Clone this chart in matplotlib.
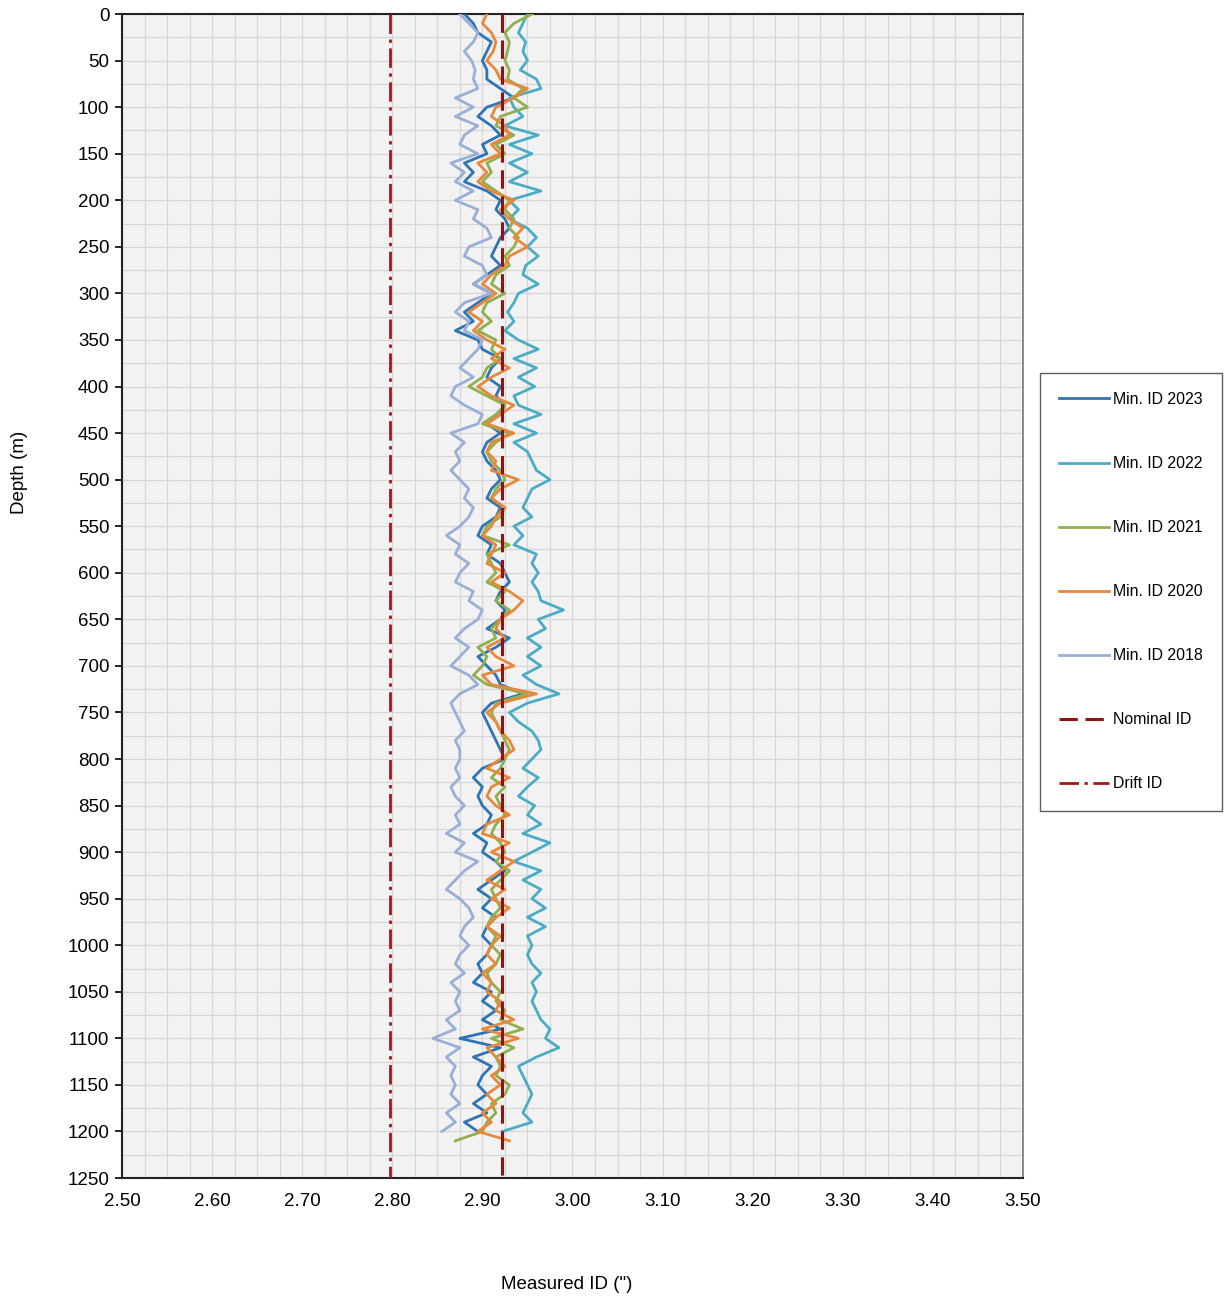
import numpy as np
import matplotlib
matplotlib.use("Agg")
import matplotlib.pyplot as plt
from matplotlib.ticker import MultipleLocator, FormatStrFormatter

plt.rcParams['font.family'] = ['Liberation Sans', 'DejaVu Sans']

depth = [0, 10, 20, 30, 40, 50, 60, 70, 80, 90, 100, 110, 120, 130, 140, 150, 160, 170, 180, 190,
         200, 210, 220, 230, 240, 250, 260, 270, 280, 290, 300, 310, 320, 330, 340, 350, 360, 370, 380, 390,
         400, 410, 420, 430, 440, 450, 460, 470, 480, 490, 500, 510, 520, 530, 540, 550, 560, 570, 580, 590,
         600, 610, 620, 630, 640, 650, 660, 670, 680, 690, 700, 710, 720, 730, 740, 750, 760, 770, 780, 790,
         800, 810, 820, 830, 840, 850, 860, 870, 880, 890, 900, 910, 920, 930, 940, 950, 960, 970, 980, 990,
         1000, 1010, 1020, 1030, 1040, 1050, 1060, 1070, 1080, 1090, 1100, 1110, 1120, 1130, 1140, 1150, 1160,
         1170, 1180, 1190, 1200, 1210]

id_2023 = [2.880, 2.890, 2.895, 2.910, 2.905, 2.900, 2.905, 2.905, 2.920, 2.935, 2.905, 2.895, 2.910, 2.920, 2.900, 2.905, 2.880, 2.890, 2.880, 2.905,
           2.920, 2.915, 2.925, 2.930, 2.920, 2.915, 2.910, 2.920, 2.905, 2.890, 2.910, 2.895, 2.880, 2.890, 2.870, 2.895, 2.900, 2.920, 2.910, 2.905,
           2.920, 2.915, 2.925, 2.920, 2.905, 2.920, 2.905, 2.900, 2.905, 2.915, 2.920, 2.910, 2.905, 2.920, 2.915, 2.900, 2.895, 2.910, 2.905, 2.920,
           2.925, 2.930, 2.920, 2.915, 2.925, 2.920, 2.905, 2.930, 2.915, 2.895, 2.905, 2.915, 2.920, 2.945, 2.910, 2.900, 2.905, 2.910, 2.915, 2.920,
           2.925, 2.900, 2.890, 2.900, 2.895, 2.900, 2.910, 2.905, 2.890, 2.905, 2.900, 2.915, 2.925, 2.910, 2.895, 2.910, 2.900, 2.915, 2.905, 2.900,
           2.910, 2.905, 2.895, 2.900, 2.890, 2.910, 2.900, 2.915, 2.900, 2.920, 2.875, 2.920, 2.890, 2.910, 2.900, 2.895, 2.905,
           2.890, 2.905, 2.880, 2.895, np.nan]

id_2022 = [2.950, 2.945, 2.940, 2.948, 2.945, 2.950, 2.942, 2.960, 2.965, 2.930, 2.935, 2.945, 2.925, 2.962, 2.930, 2.955, 2.930, 2.950, 2.930, 2.965,
           2.930, 2.940, 2.930, 2.950, 2.960, 2.950, 2.962, 2.948, 2.945, 2.962, 2.940, 2.935, 2.928, 2.935, 2.925, 2.940, 2.962, 2.935, 2.960, 2.940,
           2.958, 2.935, 2.940, 2.965, 2.935, 2.960, 2.935, 2.950, 2.955, 2.960, 2.975, 2.955, 2.950, 2.945, 2.955, 2.935, 2.945, 2.935, 2.960, 2.955,
           2.962, 2.955, 2.962, 2.965, 2.990, 2.962, 2.970, 2.950, 2.965, 2.950, 2.965, 2.945, 2.960, 2.985, 2.950, 2.930, 2.940, 2.955, 2.962, 2.965,
           2.955, 2.945, 2.962, 2.950, 2.940, 2.958, 2.950, 2.965, 2.945, 2.975, 2.955, 2.935, 2.965, 2.945, 2.965, 2.955, 2.970, 2.950, 2.970, 2.950,
           2.955, 2.950, 2.955, 2.965, 2.955, 2.960, 2.955, 2.960, 2.965, 2.975, 2.970, 2.985, 2.960, 2.940, 2.945, 2.950, 2.955,
           2.950, 2.945, 2.955, 2.922, np.nan]

id_2021 = [2.955, 2.935, 2.925, 2.930, 2.928, 2.925, 2.930, 2.928, 2.945, 2.935, 2.950, 2.920, 2.915, 2.935, 2.915, 2.925, 2.905, 2.910, 2.900, 2.915,
           2.930, 2.925, 2.935, 2.930, 2.940, 2.935, 2.925, 2.930, 2.915, 2.910, 2.925, 2.905, 2.900, 2.910, 2.895, 2.915, 2.910, 2.920, 2.905, 2.900,
           2.885, 2.905, 2.925, 2.915, 2.900, 2.930, 2.915, 2.905, 2.910, 2.920, 2.925, 2.915, 2.910, 2.925, 2.920, 2.905, 2.900, 2.930, 2.905, 2.910,
           2.915, 2.905, 2.925, 2.915, 2.930, 2.920, 2.910, 2.915, 2.895, 2.905, 2.900, 2.890, 2.905, 2.950, 2.915, 2.910, 2.915, 2.920, 2.925, 2.930,
           2.925, 2.920, 2.910, 2.925, 2.915, 2.920, 2.925, 2.915, 2.910, 2.920, 2.925, 2.915, 2.930, 2.920, 2.910, 2.915, 2.920, 2.910, 2.905, 2.915,
           2.910, 2.920, 2.915, 2.905, 2.910, 2.920, 2.915, 2.925, 2.920, 2.945, 2.910, 2.935, 2.915, 2.920, 2.915, 2.930, 2.925,
           2.910, 2.915, 2.905, 2.900, 2.870]

id_2020 = [2.905, 2.900, 2.910, 2.915, 2.912, 2.905, 2.915, 2.920, 2.950, 2.935, 2.915, 2.910, 2.925, 2.930, 2.910, 2.920, 2.895, 2.905, 2.895, 2.910,
           2.935, 2.920, 2.930, 2.945, 2.935, 2.950, 2.930, 2.925, 2.910, 2.900, 2.915, 2.900, 2.885, 2.900, 2.890, 2.905, 2.925, 2.910, 2.930, 2.910,
           2.895, 2.910, 2.935, 2.920, 2.905, 2.935, 2.910, 2.905, 2.915, 2.910, 2.940, 2.920, 2.910, 2.925, 2.915, 2.910, 2.900, 2.915, 2.910, 2.905,
           2.925, 2.910, 2.930, 2.945, 2.935, 2.920, 2.915, 2.925, 2.905, 2.915, 2.935, 2.900, 2.910, 2.960, 2.920, 2.905, 2.915, 2.920, 2.930, 2.935,
           2.920, 2.905, 2.930, 2.910, 2.905, 2.915, 2.930, 2.905, 2.900, 2.930, 2.910, 2.935, 2.920, 2.905, 2.925, 2.910, 2.930, 2.915, 2.905, 2.920,
           2.910, 2.905, 2.915, 2.900, 2.910, 2.905, 2.920, 2.915, 2.935, 2.900, 2.940, 2.905, 2.915, 2.925, 2.910, 2.920, 2.905,
           2.915, 2.900, 2.910, 2.895, 2.930]

id_2018 = [2.875, 2.885, 2.895, 2.890, 2.880, 2.888, 2.892, 2.890, 2.895, 2.870, 2.890, 2.870, 2.895, 2.880, 2.875, 2.895, 2.865, 2.880, 2.870, 2.890,
           2.870, 2.895, 2.890, 2.905, 2.910, 2.885, 2.880, 2.900, 2.905, 2.890, 2.910, 2.880, 2.870, 2.885, 2.880, 2.900, 2.895, 2.885, 2.875, 2.890,
           2.870, 2.865, 2.880, 2.900, 2.895, 2.865, 2.880, 2.870, 2.875, 2.865, 2.875, 2.885, 2.880, 2.890, 2.885, 2.875, 2.860, 2.875, 2.870, 2.885,
           2.875, 2.870, 2.890, 2.885, 2.900, 2.895, 2.880, 2.870, 2.885, 2.875, 2.865, 2.885, 2.895, 2.875, 2.865, 2.870, 2.875, 2.880, 2.870, 2.875,
           2.875, 2.870, 2.875, 2.865, 2.870, 2.880, 2.870, 2.875, 2.860, 2.880, 2.870, 2.895, 2.880, 2.870, 2.860, 2.875, 2.885, 2.890, 2.880, 2.875,
           2.885, 2.875, 2.870, 2.880, 2.865, 2.875, 2.870, 2.875, 2.860, 2.870, 2.845, 2.875, 2.860, 2.870, 2.865, 2.870, 2.865,
           2.875, 2.860, 2.870, 2.855, np.nan]

nominal_id = 2.922
drift_id = 2.797

series = [("Min. ID 2023", id_2023, "#2E75B6"),
          ("Min. ID 2022", id_2022, "#4BACC6"),
          ("Min. ID 2021", id_2021, "#8FB04E"),
          ("Min. ID 2020", id_2020, "#E8883A"),
          ("Min. ID 2018", id_2018, "#9AAFD6")]

fig = plt.figure(figsize=(12.26, 13.01), dpi=100)
ax = fig.add_axes([0.0995, 0.0945, 0.7349, 0.8947])
ax.set_facecolor("#F2F2F2")

handles = []
for label, vals, col in series:
    h, = ax.plot(vals, depth, color=col, lw=2.0, label=label, zorder=3)
    handles.append(h)

h_nom, = ax.plot([nominal_id, nominal_id], [0, 1250], color="#8B1414", lw=2.2,
                 dashes=(6, 2.5), label="Nominal ID", zorder=5)
h_drift, = ax.plot([drift_id, drift_id], [0, 1250], color="#A01818", lw=2.0,
                   dashes=(7, 2, 1.2, 2), label="Drift ID", zorder=5)
handles += [h_nom, h_drift]

ax.set_xlim(2.5, 3.5)
ax.set_ylim(1250, 0)
ax.xaxis.set_major_locator(MultipleLocator(0.1))
ax.xaxis.set_minor_locator(MultipleLocator(0.025))
ax.yaxis.set_major_locator(MultipleLocator(50))
ax.yaxis.set_minor_locator(MultipleLocator(25))
ax.xaxis.set_major_formatter(FormatStrFormatter("%.2f"))
ax.grid(which="both", color="#D6D6D6", lw=0.9, zorder=0)
ax.set_axisbelow(True)

ax.tick_params(axis="x", which="both", length=0, pad=11, labelsize=13.5)
ax.tick_params(axis="y", which="major", length=5, width=1.2, direction="out", pad=4, labelsize=13.5)
ax.tick_params(axis="y", which="minor", length=0)

for s in ["left", "bottom", "top"]:
    ax.spines[s].set_color("#222222")
    ax.spines[s].set_linewidth(1.5)
ax.spines["right"].set_color("#777777")
ax.spines["right"].set_linewidth(1.2)

fig.text(0.0155, 0.637, "Depth (m)", rotation=90, va="center", ha="center", fontsize=13.5)
fig.text(0.4625, 0.0123, "Measured ID (\")", ha="center", va="center", fontsize=13.5)

leg = fig.legend(handles=handles, loc="upper left", bbox_to_anchor=(0.848, 1 - 373 / 1301),
                 frameon=True, fancybox=False, fontsize=11.4, handlelength=3.15,
                 labelspacing=3.1, borderpad=1.2, handletextpad=0.3, borderaxespad=0)
leg.get_frame().set_edgecolor("#333333")
leg.get_frame().set_linewidth(1.0)

fig.savefig("out.png", dpi=100, facecolor="white")
